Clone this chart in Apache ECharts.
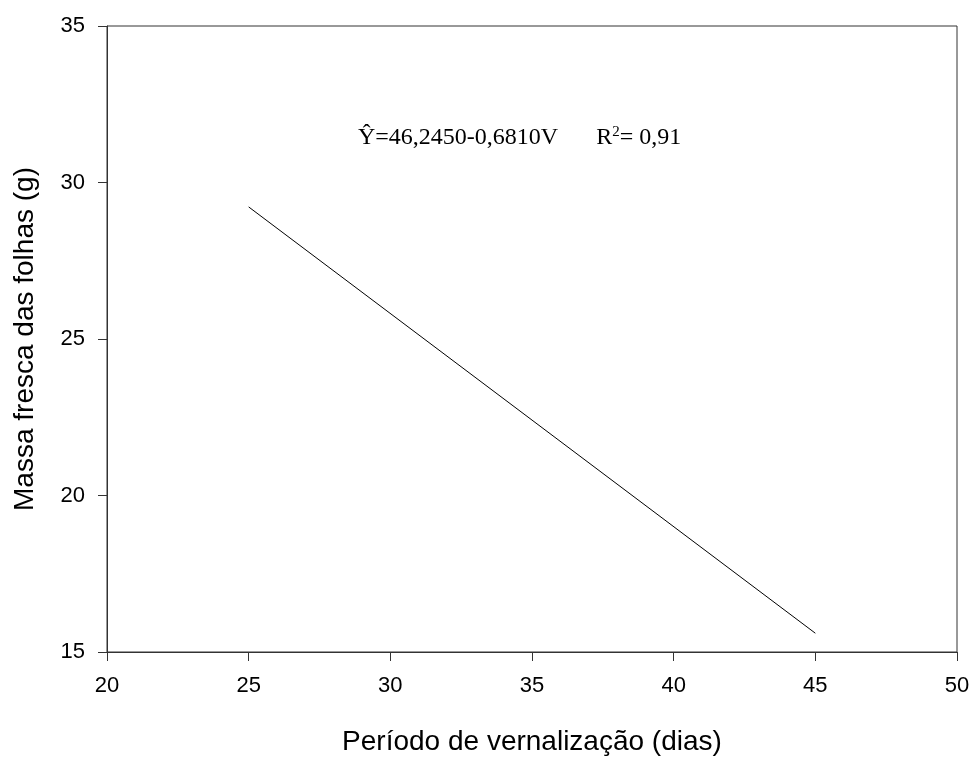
<!DOCTYPE html>
<html>
<head>
<meta charset="utf-8">
<script src="https://cdn.jsdelivr.net/npm/echarts@6/dist/echarts.min.js"></script>
<style>
  html, body { margin: 0; padding: 0; background: #fff; }
  #chart { width: 971px; height: 758px; }
</style>
</head>
<body>
<div id="chart"></div>
<script>
// Fitted regression line: leaf fresh mass vs. vernalization period
const periodDays = [25, 45];
const freshMass = [29.22, 15.6];
const xTicks = [20, 25, 30, 35, 40, 45, 50];
const yTicks = [15, 20, 25, 30, 35];

const axisColor = '#333';
const chart = echarts.init(document.getElementById('chart'), null, { renderer: 'canvas' });

chart.setOption({
  backgroundColor: '#fff',
  animation: false,
  grid: {
    left: 107, right: 14, top: 26, bottom: 106,
    containLabel: false, outerBoundsMode: 'none',
    show: true, borderColor: axisColor, borderWidth: 1, backgroundColor: 'transparent'
  },
  xAxis: {
    type: 'value',
    min: xTicks[0], max: xTicks[xTicks.length - 1], interval: 5,
    name: 'Período de vernalização (dias)',
    nameLocation: 'middle', nameGap: 76,
    nameTextStyle: { fontFamily: 'Liberation Sans, Arial', fontSize: 28, color: '#000' },
    axisLine: { show: true, lineStyle: { color: axisColor, width: 1 } },
    axisTick: { show: true, length: 9, lineStyle: { color: axisColor } },
    axisLabel: { fontFamily: 'Liberation Sans, Arial', fontSize: 22, color: '#000', margin: 23 },
    splitLine: { show: false }
  },
  yAxis: {
    type: 'value',
    min: yTicks[0], max: yTicks[yTicks.length - 1], interval: 5,
    name: 'Massa fresca das folhas (g)',
    nameLocation: 'middle', nameGap: 68,
    nameTextStyle: { fontFamily: 'Liberation Sans, Arial', fontSize: 28, color: '#000' },
    axisLine: { show: true, lineStyle: { color: axisColor, width: 1 } },
    axisTick: { show: true, length: 9, lineStyle: { color: axisColor } },
    axisLabel: { fontFamily: 'Liberation Sans, Arial', fontSize: 22, color: '#000', margin: 22 },
    splitLine: { show: false }
  },
  graphic: [{
    type: 'text',
    left: 358, top: 125,
    style: {
      text: '{a|Ŷ=46,2450-0,6810V}{gap|}{a|R}{sup|2}{a|= 0,91}',
      rich: {
        a: { fontFamily: 'Liberation Serif, Times New Roman', fontSize: 24, fill: '#000', verticalAlign: 'bottom' },
        gap: { width: 38 },
        sup: { fontFamily: 'Liberation Serif, Times New Roman', fontSize: 15, fill: '#000', verticalAlign: 'top', padding: [0, 0, 10, 0] }
      }
    }
  }],
  series: [{
    type: 'line',
    data: periodDays.map((d, i) => [d, freshMass[i]]),
    showSymbol: false,
    lineStyle: { color: '#000', width: 1 },
    silent: true
  }]
});
</script>
</body>
</html>
